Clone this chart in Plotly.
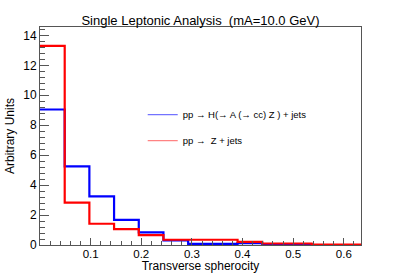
import plotly.graph_objects as go

# Data
bin_edges = [0.0, 0.0488, 0.0975, 0.1463, 0.1951, 0.2438, 0.2926, 0.3414,
             0.3902, 0.4389, 0.4877, 0.5365, 0.5852, 0.634]
signal_vals = [9.05, 5.25, 3.25, 1.68, 0.84, 0.30, 0.07, 0.07, 0.12, 0.05, 0.05, 0.0, 0.0]
bkg_vals = [13.3, 2.83, 1.42, 1.06, 0.66, 0.35, 0.35, 0.35, 0.21, 0.10, 0.10, 0.02, 0.02]
signal_label = "pp \u2192 H(\u2192 A (\u2192 cc) Z ) + jets"
bkg_label = "pp \u2192  Z + jets"
title_text = "Single Leptonic Analysis  (mA=10.0 GeV)"
x_title = "Transverse spherocity"
y_title = "Arbitrary Units"

FONT = "Liberation Sans, Arial, Helvetica, sans-serif"

fig = go.Figure()
fig.add_trace(go.Scatter(x=bin_edges, y=signal_vals + [signal_vals[-1]],
                         mode="lines", line=dict(color="#0000ff", width=2.2, shape="hv"),
                         showlegend=False, hoverinfo="skip"))
fig.add_trace(go.Scatter(x=bin_edges, y=bkg_vals + [bkg_vals[-1]],
                         mode="lines", line=dict(color="#ff0000", width=2.2, shape="hv"),
                         showlegend=False, hoverinfo="skip"))
# legend entries
fig.add_trace(go.Scatter(x=[None], y=[None], mode="lines", name=signal_label,
                         line=dict(color="rgba(80,80,255,0.8)", width=1.2), legendgroup="a"))
fig.add_trace(go.Scatter(x=[None], y=[None], mode="lines", name=bkg_label,
                         line=dict(color="rgba(255,100,100,0.8)", width=1.2), legendgroup="b"))

fig.update_layout(
    width=401, height=273,
    margin=dict(l=40, r=40, t=27, b=28, autoexpand=False),
    paper_bgcolor="white", plot_bgcolor="white",
    font=dict(family=FONT, size=12, color="black"),
    title=dict(text=title_text, x=0.5, xanchor="center", y=0.925, yanchor="middle",
               font=dict(family=FONT, size=13, color="black"), automargin=False),
    legend=dict(x=0.32, y=0.665, xanchor="left", yanchor="top",
                bgcolor="rgba(0,0,0,0)", font=dict(family=FONT, size=9.5),
                tracegroupgap=7, itemwidth=30),
    xaxis=dict(range=[0, 0.634], showgrid=False, zeroline=False, automargin=False,
               showline=True, linecolor="#555", linewidth=1, mirror=True,
               ticks="inside", ticklen=7, tickcolor="#555",
               tickvals=[0.1, 0.2, 0.3, 0.4, 0.5, 0.6],
               ticktext=["0.1", "0.2", "0.3", "0.4", "0.5", "0.6"],
               ticklabelstandoff=-2,
               minor=dict(ticks="inside", ticklen=4, dtick=0.02, tick0=0, tickcolor="#555"),
               title=dict(text=x_title, standoff=5, font=dict(size=12)),
               tickfont=dict(size=11.5)),
    yaxis=dict(range=[0, 14.56], showgrid=False, zeroline=False, automargin=False,
               showline=True, linecolor="#555", linewidth=1, mirror=True,
               ticks="inside", ticklen=9, tickcolor="#555", dtick=2, tick0=0,
               minor=dict(ticks="inside", ticklen=5, dtick=0.4, tick0=0, tickcolor="#555"),
               title=dict(text=y_title, standoff=6, font=dict(size=12)),
               tickfont=dict(size=12)),
)

fig.write_html("out.html", config={"displayModeBar": False},
               post_script="document.body.style.margin='0';")
